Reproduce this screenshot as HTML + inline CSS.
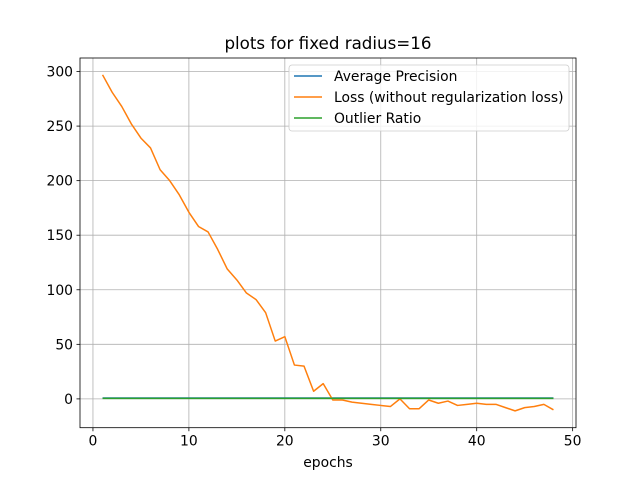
<!DOCTYPE html>
<html><head><meta charset="utf-8"><style>
body{margin:0;background:#fff}
svg{font-family:"DejaVu Sans","Liberation Sans",sans-serif}
</style></head><body>
<svg id="c" width="640" height="480"></svg>
<script>
const epochs=[];for(let i=1;i<=48;i++)epochs.push(i);
const loss=[297,281,268,252,239,230,210,200,187,171,158,153,137,119,109,97,91,79,53,57,31,30,7,14,-1,-1,-3,-4,-5,-6,-7,0,-9,-9,-1,-4,-2,-6,-5,-4,-5,-5,-8,-11,-8,-7,-5,-10];
const ap=epochs.map(()=>0.8);
const outlier=epochs.map(()=>0.5);
const xTicks=[0,10,20,30,40,50];
const yTicks=[0,50,100,150,200,250,300];
const L=80,R=576,T=58,B=427.7;
const xmin=-1.35,xmax=50.35,ymin=-26.4,ymax=312.4;
const X=v=>L+(v-xmin)/(xmax-xmin)*(R-L);
const Y=v=>B-(v-ymin)/(ymax-ymin)*(B-T);
const s=document.getElementById('c');const NS='http://www.w3.org/2000/svg';
function add(t,a,txt){const e=document.createElementNS(NS,t);for(const k in a)e.setAttribute(k,a[k]);if(txt!==undefined)e.textContent=txt;s.appendChild(e);return e;}
xTicks.forEach(v=>{
const g=add('line',{x1:X(v),x2:X(v),y1:T,y2:B,stroke:'#b0b0b0','stroke-width':0.8});


add('line',{x1:X(v),x2:X(v),y1:B,y2:B+3.5,stroke:'#000','stroke-width':0.8});
const t=add('text',{x:X(v),y:B+18,'text-anchor':'middle','font-size':13.9},v);


});
yTicks.forEach(v=>{
const g=add('line',{x1:L,x2:R,y1:Y(v),y2:Y(v),stroke:'#b0b0b0','stroke-width':0.8});


add('line',{x1:L-3.5,x2:L,y1:Y(v),y2:Y(v),stroke:'#000','stroke-width':0.8});
const t=add('text',{x:L-7,y:Y(v)+5,'text-anchor':'end','font-size':13.9},v);


});
function line(d,c,n){const p=add('polyline',{points:d.map((v,i)=>X(epochs[i])+','+Y(v)).join(' '),fill:'none',stroke:c,'stroke-width':1.5,'stroke-linejoin':'round'});

}
line(ap,'#1f77b4','ap-line');
line(loss,'#ff7f0e','loss-line');
line(outlier,'#2ca02c','outlier-line');
const fr=add('rect',{x:L,y:T,width:R-L,height:B-T,fill:'none',stroke:'#000','stroke-width':0.8});


const ti=add('text',{x:(L+R)/2,y:T-9,'text-anchor':'middle','font-size':16.7},'plots for fixed radius=16');


const xl=add('text',{x:(L+R)/2,y:467,'text-anchor':'middle','font-size':13.9},'epochs');


const lg=add('rect',{x:289,y:65,width:280,height:66,rx:3,fill:'#fff','fill-opacity':0.8,stroke:'#ccc','stroke-width':0.8});


[['Average Precision','#1f77b4'],['Loss (without regularization loss)','#ff7f0e'],['Outlier Ratio','#2ca02c']].forEach((e,i)=>{
const y=76+i*21;
add('line',{x1:294,x2:322,y1:y,y2:y,stroke:e[1],'stroke-width':1.5});
const t=add('text',{x:334,y:y+5,'font-size':13.9},e[0]);


});
</script>
</body></html>
